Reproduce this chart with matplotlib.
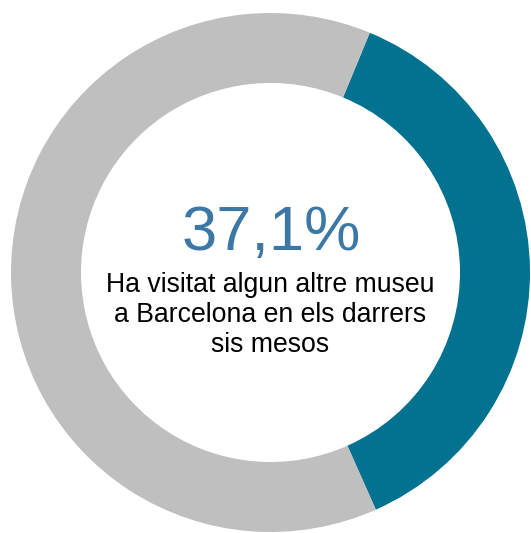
import matplotlib.pyplot as plt

# share of visitors who went to another museum in the last six months
share = 37.1
values = [share, 100 - share]
colors = ['#037291', '#bfbfbf']
value_label = '37,1%'
caption = 'Ha visitat algun altre museu\na Barcelona en els darrers\nsis mesos'

W, H = 531, 533
fig = plt.figure(figsize=(W / 100, H / 100), dpi=100)
ax = fig.add_axes([0, 0, 1, 1])

cx, cy = 270.5, H - 272.5
ax.pie(values, colors=colors, startangle=67.5, counterclock=False,
       center=(cx, cy), radius=259.5,
       wedgeprops=dict(width=70, linewidth=0))

ax.set_xlim(0, W)
ax.set_ylim(0, H)
ax.set_aspect('equal')
ax.axis('off')

ax.text(271, H - 250, value_label, ha='center', va='baseline',
        fontsize=45.5, color='#3b78a6', family='Liberation Sans')
# baseline of a multi-line text is the last line
ax.text(270, H - 352, caption, ha='center', va='baseline',
        fontsize=19.2, color='black', family='Liberation Sans',
        linespacing=1.2, multialignment='center')

fig.savefig('out.png', dpi=100, facecolor='white')
